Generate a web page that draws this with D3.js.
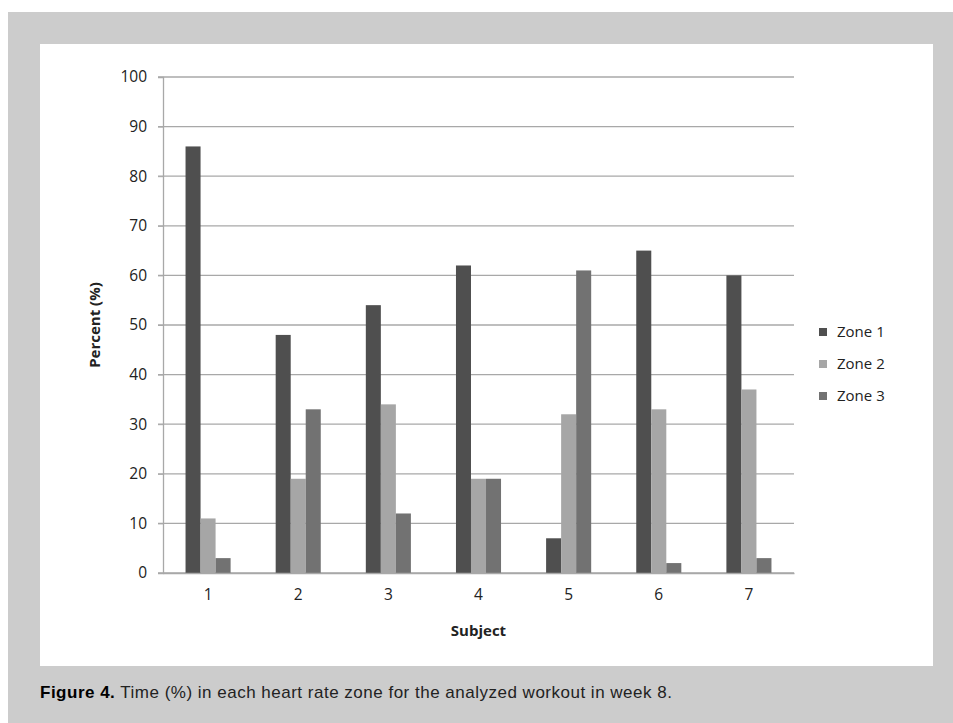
<!DOCTYPE html>
<html>
<head>
<meta charset="utf-8">
<script src="https://cdn.jsdelivr.net/npm/d3@7"></script>
<style>
  body { margin: 0; background: #fff; }
  svg { display: block; }
</style>
</head>
<body>
<div class="chart"></div>
<script>
// chart data
var subjects = ["1", "2", "3", "4", "5", "6", "7"];
var zones = ["Zone 1", "Zone 2", "Zone 3"];
var zone1 = [86, 48, 54, 62, 7, 65, 60];
var zone2 = [11, 19, 34, 19, 32, 33, 37];
var zone3 = [3, 33, 12, 19, 61, 2, 3];
var yTicks = [0, 10, 20, 30, 40, 50, 60, 70, 80, 90, 100];

var series = [zone1, zone2, zone3];
var colors = ["#4f4f4f", "#a6a6a6", "#727272"];

var svgWidth = 953, svgHeight = 723;
var margin = { top: 77, left: 163, right: 159, bottom: 150 };
var width = svgWidth - margin.left - margin.right;
var height = svgHeight - margin.top - margin.bottom;
var font = "Open Sans, sans-serif";

var svg = d3.select(".chart")
  .append("svg")
  .attr("width", svgWidth)
  .attr("height", svgHeight);

// gray frame and white panel
svg.append("rect")
  .attr("x", 8).attr("y", 12)
  .attr("width", svgWidth - 8).attr("height", svgHeight - 12)
  .attr("fill", "#cccccc");
svg.append("rect")
  .attr("x", 40).attr("y", 44)
  .attr("width", 893).attr("height", 622)
  .attr("fill", "#ffffff");

var chart = svg.append("g")
  .attr("transform", `translate(${margin.left}, ${margin.top})`);

var x = d3.scaleBand()
  .domain(subjects)
  .range([0, width]);

var x1 = d3.scaleBand()
  .domain(d3.range(zones.length))
  .range([x.bandwidth() * 0.25, x.bandwidth() * 0.75]);

var y = d3.scaleLinear()
  .domain([0, 100])
  .range([height, 0]);

// gridlines
chart.append("g")
  .attr("class", "grid")
  .selectAll("line")
  .data(yTicks)
  .enter().append("line")
  .attr("x1", -5)
  .attr("x2", width)
  .attr("y1", d => y(d))
  .attr("y2", d => y(d))
  .attr("stroke", "#a8a8a8")
  .attr("stroke-width", 1.3);

// y axis
var yAxis = chart.append("g")
  .call(d3.axisLeft(y).tickValues(yTicks).tickSize(5).tickPadding(11));
yAxis.select(".domain").attr("stroke", "#a8a8a8").attr("stroke-width", 1.3);
yAxis.selectAll(".tick line").attr("stroke", "#a8a8a8");
yAxis.selectAll("text")
  .attr("font-family", font)
  .attr("font-size", 15.5)
  .attr("fill", "#222");

// bars
chart.append("g")
  .attr("class", "bars")
  .selectAll("g")
  .data(series)
  .enter().append("g")
  .attr("fill", (d, i) => colors[i])
  .each(function(vals, i) {
    d3.select(this).selectAll("rect")
      .data(vals)
      .enter().append("rect")
      .attr("x", (d, j) => x(subjects[j]) + x1(i))
      .attr("y", d => y(d))
      .attr("width", x1.bandwidth())
      .attr("height", d => y(0) - y(d));
  });

// x axis
var xAxis = chart.append("g")
  .attr("transform", `translate(0, ${height})`)
  .call(d3.axisBottom(x).tickSize(0).tickPadding(16));
xAxis.select(".domain").attr("stroke", "#a8a8a8").attr("stroke-width", 1.3);
xAxis.selectAll("text")
  .attr("font-family", font)
  .attr("font-size", 15.5)
  .attr("fill", "#222");

// axis titles
chart.append("text")
  .attr("x", width / 2)
  .attr("y", height + 63)
  .attr("text-anchor", "middle")
  .attr("font-family", font)
  .attr("font-weight", "bold")
  .attr("font-size", 15)
  .attr("fill", "#222")
  .text("Subject");

chart.append("text")
  .attr("transform", `translate(-63, ${height / 2}) rotate(-90)`)
  .attr("text-anchor", "middle")
  .attr("font-family", font)
  .attr("font-weight", "bold")
  .attr("font-size", 15)
  .attr("fill", "#222")
  .text("Percent (%)");

// legend
var legend = svg.append("g")
  .attr("transform", "translate(819, 332)")
  .selectAll("g")
  .data(zones)
  .enter().append("g")
  .attr("transform", (d, i) => `translate(0, ${i * 32})`);
legend.append("rect")
  .attr("x", 0).attr("y", -4)
  .attr("width", 8).attr("height", 8)
  .attr("fill", (d, i) => colors[i]);
legend.append("text")
  .attr("x", 18)
  .attr("dy", "0.35em")
  .attr("font-family", font)
  .attr("font-size", 15)
  .attr("fill", "#222")
  .text(d => d);

// caption
var caption = svg.append("text")
  .attr("x", 40)
  .attr("y", 698)
  .attr("font-family", "Liberation Sans, Arial, sans-serif")
  .attr("font-size", 17)
  .attr("letter-spacing", 0.5)
  .attr("fill", "#222");
caption.append("tspan").attr("font-weight", "bold").attr("fill", "#000").text("Figure 4.");
caption.append("tspan").text(" Time (%) in each heart rate zone for the analyzed workout in week 8.");
</script>
</body>
</html>
